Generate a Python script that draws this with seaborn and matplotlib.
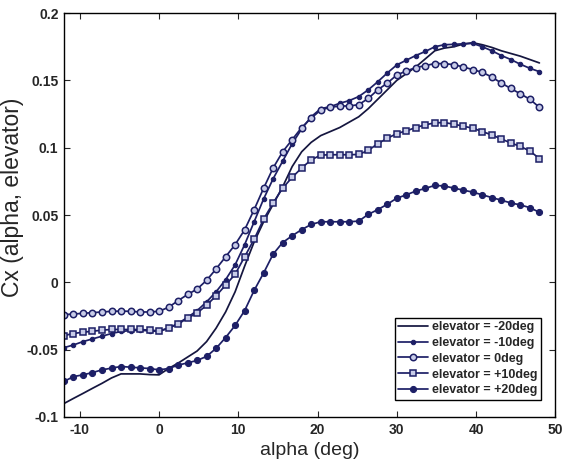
import numpy as np
import pandas as pd
import matplotlib
matplotlib.use("Agg")
import matplotlib.pyplot as plt
import seaborn as sns

alpha = [-12.0, -10.8, -9.6, -8.4, -7.2, -6.0, -4.8, -3.6, -2.4, -1.2,
         0.0, 1.2, 2.4, 3.6, 4.8, 6.0, 7.2, 8.4, 9.6, 10.8,
         12.0, 13.2, 14.4, 15.6, 16.8, 18.0, 19.2, 20.4, 21.6, 22.8,
         24.0, 25.2, 26.4, 27.6, 28.8, 30.0, 31.2, 32.4, 33.6, 34.8,
         36.0, 37.2, 38.4, 39.6, 40.8, 42.0, 43.2, 44.4, 45.6, 46.8, 48.0]

cx_m20 = [-0.090, -0.0862, -0.0825, -0.0787, -0.075, -0.071, -0.068, -0.068, -0.068, -0.0685,
          -0.0687, -0.064, -0.060, -0.0555, -0.051, -0.044, -0.034, -0.022, -0.007, 0.012,
          0.030, 0.045, 0.058, 0.071, 0.086, 0.097, 0.104, 0.109, 0.112, 0.115,
          0.119, 0.123, 0.129, 0.136, 0.143, 0.150, 0.155, 0.160, 0.166, 0.172,
          0.174, 0.175, 0.177, 0.178, 0.1765, 0.1745, 0.172, 0.170, 0.168, 0.1655, 0.163]

cx_m10 = [-0.0485, -0.0465, -0.044, -0.042, -0.040, -0.038, -0.0365, -0.0358, -0.0356, -0.036,
          -0.0365, -0.034, -0.0305, -0.026, -0.021, -0.0145, -0.007, 0.002, 0.013, 0.028,
          0.045, 0.062, 0.077, 0.090, 0.103, 0.114, 0.123, 0.129, 0.1305, 0.133,
          0.135, 0.138, 0.143, 0.149, 0.1555, 0.1615, 0.165, 0.1685, 0.1715, 0.175,
          0.1765, 0.1768, 0.1772, 0.1775, 0.175, 0.172, 0.1685, 0.1655, 0.162, 0.159, 0.1565]

cx_0 = [-0.024, -0.0235, -0.023, -0.0225, -0.022, -0.0215, -0.0214, -0.0215, -0.022, -0.022,
        -0.0215, -0.0185, -0.0136, -0.009, -0.005, 0.0015, 0.010, 0.019, 0.028, 0.039,
        0.054, 0.070, 0.085, 0.097, 0.106, 0.115, 0.122, 0.128, 0.130, 0.131,
        0.131, 0.132, 0.1366, 0.143, 0.148, 0.154, 0.157, 0.1595, 0.161, 0.1625,
        0.1625, 0.1617, 0.160, 0.158, 0.156, 0.1525, 0.148, 0.144, 0.140, 0.136, 0.130]

cx_p10 = [-0.0395, -0.038, -0.037, -0.0363, -0.0355, -0.035, -0.035, -0.035, -0.035, -0.0355,
          -0.036, -0.034, -0.031, -0.0265, -0.0228, -0.017, -0.010, -0.002, 0.006, 0.019,
          0.032, 0.047, 0.059, 0.070, 0.078, 0.085, 0.091, 0.0945, 0.0948, 0.0948,
          0.0948, 0.095, 0.098, 0.103, 0.107, 0.1105, 0.1125, 0.115, 0.117, 0.1185,
          0.1187, 0.1175, 0.116, 0.1145, 0.112, 0.1095, 0.1065, 0.1035, 0.101, 0.0975, 0.092]

cx_p20 = [-0.0736, -0.070, -0.0687, -0.067, -0.065, -0.0637, -0.0625, -0.063, -0.0635, -0.064,
          -0.065, -0.064, -0.0615, -0.0598, -0.058, -0.055, -0.049, -0.041, -0.032, -0.021,
          -0.006, 0.007, 0.021, 0.0296, 0.0346, 0.0392, 0.043, 0.045, 0.045, 0.045,
          0.045, 0.0455, 0.0505, 0.054, 0.058, 0.0625, 0.065, 0.0678, 0.0698, 0.072,
          0.0716, 0.070, 0.0685, 0.067, 0.065, 0.063, 0.061, 0.059, 0.0575, 0.0555, 0.052]

labels = ["elevator = -20deg", "elevator = -10deg", "elevator = 0deg",
          "elevator = +10deg", "elevator = +20deg"]
xticks = [-10, 0, 10, 20, 30, 40, 50]
yticks = [-0.1, -0.05, 0, 0.05, 0.1, 0.15, 0.2]
ytick_labels = ["-0.1", "-0.05", "0", "0.05", "0.1", "0.15", "0.2"]

sns.set_style("ticks")
plt.rcParams["font.family"] = ["Liberation Sans", "DejaVu Sans"]

navy = "#1d1f66"
fig = plt.figure(figsize=(5.66, 4.68), dpi=100)
ax = fig.add_axes([0.113, 0.109, 0.868, 0.863])

series = [cx_m20, cx_m10, cx_0, cx_p10, cx_p20]
styles = [
    dict(marker=None),
    dict(marker="o", markersize=3.2, markerfacecolor=navy, markeredgecolor=navy),
    dict(marker="o", markersize=4.6, markerfacecolor="#c8cce8", markeredgecolor=navy, markeredgewidth=1.1),
    dict(marker="s", markersize=4.6, markerfacecolor="#c8cce8", markeredgecolor=navy, markeredgewidth=1.1),
    dict(marker="o", markersize=4.4, markerfacecolor=navy, markeredgecolor=navy),
]
for vals, lab, st in zip(series, labels, styles):
    df = pd.DataFrame({"alpha": alpha, "cx": vals})
    kw = {k: v for k, v in st.items() if v is not None}
    sns.lineplot(data=df, x="alpha", y="cx", ax=ax, color=navy if lab != labels[0] else "#15163f",
                 linewidth=1.25, label=lab, **kw)

ax.set_xlim(-12, 50)
ax.set_ylim(-0.1, 0.2)
ax.set_xticks(xticks)
ax.set_xticklabels([str(t) for t in xticks], fontweight="bold", fontsize=10)
ax.set_yticks(yticks)
ax.set_yticklabels(ytick_labels, fontweight="bold", fontsize=10)
ax.tick_params(direction="in", top=True, right=True, length=4, width=0.8, pad=4)
for s in ax.spines.values():
    s.set_linewidth(1.0)
    s.set_color("black")
    s.set_visible(True)
ax.set_xlabel("alpha (deg)", fontsize=14, labelpad=4)
ax.set_ylabel("Cx (alpha, elevator)", fontsize=16.5)
ax.yaxis.set_label_coords(-0.082, 0.545)

leg = ax.legend(loc="lower right", bbox_to_anchor=(0.972, 0.042),
                prop={"weight": "bold", "size": 9}, frameon=True, fancybox=False,
                edgecolor="black", framealpha=1, handlelength=2.4, handletextpad=0.3,
                borderpad=0.3, labelspacing=0.3, borderaxespad=0.0)
leg.get_frame().set_linewidth(1.0)

fig.savefig("out.png", dpi=100)
